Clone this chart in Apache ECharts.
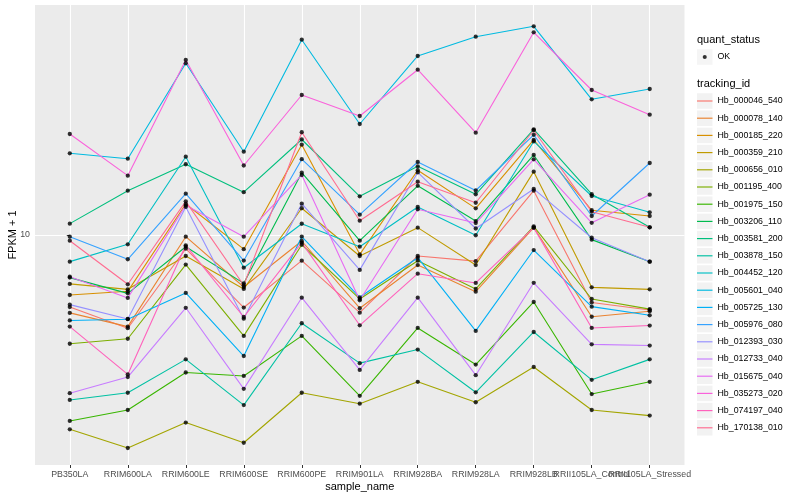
<!DOCTYPE html>
<html><head><meta charset="utf-8">
<script src="https://cdn.jsdelivr.net/npm/echarts@6/dist/echarts.min.js"></script>
<style>html,body{margin:0;padding:0;background:#fff}#c{width:800px;height:500px}</style>
</head><body><div id="c"></div>
<script>
// ---- data ----
const categories = ['PB350LA','RRIM600LA','RRIM600LE','RRIM600SE','RRIM600PE','RRIM901LA','RRIM928BA','RRIM928LA','RRIM928LB','RRII105LA_Control','RRII105LA_Stressed'];
const trackingIds = ['Hb_000046_540','Hb_000078_140','Hb_000185_220','Hb_000359_210','Hb_000656_010','Hb_001195_400','Hb_001975_150','Hb_003206_110','Hb_003581_200','Hb_003878_150','Hb_004452_120','Hb_005601_040','Hb_005725_130','Hb_005976_080','Hb_012393_030','Hb_012733_040','Hb_015675_040','Hb_035273_020','Hb_074197_040','Hb_170138_010'];
const colors = ['#F8766D','#EA8331','#D89000','#C09B00','#A3A500','#7CAE00','#39B600','#00BB4E','#00BF7D','#00C1A3','#00BFC4','#00BAE0','#00B0F6','#35A2FF','#9590FF','#C77CFF','#E76BF3','#FA62DB','#FF62BC','#FF6C91'];
// FPKM + 1 per sample
const hb000046_540 = [5.75, 4.89, 9.00, 5.73, 8.21, 5.51, 8.51, 8.18, 14.05, 5.96, 5.62];
const hb000078_140 = [5.50, 4.95, 9.87, 6.71, 9.55, 5.70, 7.94, 6.47, 10.58, 5.34, 5.57];
const hb000185_220 = [6.31, 6.49, 12.69, 8.97, 20.00, 8.62, 16.44, 12.27, 20.74, 12.09, 11.57];
const hb000359_210 = [6.87, 6.59, 8.51, 6.61, 12.28, 8.51, 10.58, 7.94, 16.26, 6.69, 6.59];
const hb000656_010 = [2.25, 1.95, 2.37, 2.03, 2.98, 2.74, 3.24, 2.77, 3.63, 2.61, 2.50];
const hb001195_400 = [4.34, 4.51, 7.97, 4.61, 9.28, 6.12, 8.21, 6.61, 10.69, 6.12, 5.66];
const hb001975_150 = [2.40, 2.61, 3.48, 3.39, 4.61, 2.91, 4.90, 3.70, 5.98, 2.95, 3.24];
const hb003206_110 = [7.21, 6.39, 9.14, 6.90, 16.13, 9.57, 14.59, 11.13, 18.48, 9.65, 8.15];
const hb003581_200 = [10.91, 14.05, 17.21, 13.89, 20.81, 13.46, 16.94, 13.67, 22.51, 13.68, 10.61];
const hb003878_150 = [2.82, 2.98, 3.85, 2.71, 5.08, 3.74, 4.15, 2.99, 4.75, 3.29, 3.85];
const hb004452_120 = [8.15, 9.31, 18.24, 7.78, 10.90, 9.14, 12.40, 9.98, 20.50, 13.49, 11.90];
const hb005601_040 = [18.72, 17.96, 37.35, 18.95, 44.77, 23.44, 39.51, 45.81, 49.62, 28.33, 30.67];
const hb005725_130 = [5.19, 5.24, 6.41, 3.95, 9.87, 6.20, 8.40, 4.79, 8.91, 5.77, 5.40];
const hb005976_080 = [9.87, 8.30, 13.73, 8.22, 17.89, 11.69, 17.51, 14.07, 21.58, 11.57, 17.38];
const hb012393_030 = [5.86, 5.25, 12.40, 5.26, 12.72, 7.65, 16.16, 10.51, 14.24, 9.79, 8.15];
const hb012733_040 = [2.97, 3.36, 5.72, 3.07, 6.18, 3.55, 6.18, 3.41, 6.93, 4.32, 4.28];
const hb015675_040 = [7.26, 6.17, 12.56, 9.87, 15.85, 6.06, 12.18, 10.96, 17.88, 10.98, 13.63];
const hb035273_020 = [21.71, 15.77, 38.31, 17.05, 29.29, 24.93, 35.56, 21.93, 47.39, 30.43, 25.18];
const hb074197_040 = [4.95, 3.43, 9.24, 5.33, 9.43, 5.00, 7.43, 6.92, 10.58, 4.90, 4.99];
const hb170138_010 = [9.57, 6.85, 12.95, 6.80, 22.00, 11.16, 15.05, 12.81, 22.34, 11.96, 10.61];
const yTicks = [10];
const yMin = 1.7113, yMax = 58.43;
const quantStatus = 'OK';

const seriesValues = [hb000046_540, hb000078_140, hb000185_220, hb000359_210, hb000656_010, hb001195_400, hb001975_150, hb003206_110, hb003581_200, hb003878_150, hb004452_120, hb005601_040, hb005725_130, hb005976_080, hb012393_030, hb012733_040, hb015675_040, hb035273_020, hb074197_040, hb170138_010];

// ---- chart ----
const FONT = '"Liberation Sans", Arial, Helvetica, sans-serif';
const catIdx = categories.map((c, i) => i);
const evenIdx = catIdx.filter(i => i % 2 === 0);
const oddIdx = catIdx.filter(i => i % 2 === 1);
const chart = echarts.init(document.getElementById('c'));

const lineSeries = trackingIds.map((id, k) => ({
  name: id, type: 'line', symbol: 'none', silent: true, z: 2,
  color: colors[k], lineStyle: { width: 1.1, color: colors[k] },
  data: seriesValues[k].map((v, i) => [i, v])
}));
const pts = [];
seriesValues.forEach(a => a.forEach((v, i) => pts.push([i, v])));
const pointSeries = { name: quantStatus, type: 'scatter', symbol: 'circle', symbolSize: 4.3, silent: true, z: 5,
  color: '#000', itemStyle: { color: '#000' }, data: pts };

const lineIcon = 'path://M0,0M20,20M0,9.25H20V10.75H0Z';
const dotIcon = 'path://M0,0M16,16M8,8m-2.1,0a2.1,2.1 0 1,0 4.2,0a2.1,2.1 0 1,0 -4.2,0Z';
const legendBase = { orient: 'vertical', left: 697, itemWidth: 15.5, itemHeight: 15.5, itemGap: 1.7,
  textStyle: { fontFamily: FONT, fontSize: 8.8, color: '#000' }, padding: 0, selectedMode: false };
const xLabelStyle = { margin: 5, hideOverlap: false, showMinLabel: true, showMaxLabel: true,
  formatter: v => categories[Math.round(v)] || '', fontFamily: FONT, fontSize: 8.8, color: '#4D4D4D' };

chart.setOption({
  animation: false,
  backgroundColor: '#fff',
  textStyle: { fontFamily: FONT },
  grid: { left: 35, right: 115.5, top: 5, bottom: 35, show: true, backgroundColor: '#EBEBEB', borderWidth: 0,
    containLabel: false, outerBoundsMode: 'none' },
  xAxis: [{
    type: 'value', min: -0.6, max: 10.6, position: 'bottom',
    name: 'sample_name', nameLocation: 'middle', nameGap: 16, nameMoveOverlap: false,
    nameTextStyle: { fontFamily: FONT, fontSize: 11, color: '#000' },
    axisLine: { show: false },
    axisTick: { show: true, customValues: catIdx, length: 3, lineStyle: { color: '#333333', width: 1 } },
    axisLabel: Object.assign({ customValues: evenIdx }, xLabelStyle),
    splitLine: { show: true, lineStyle: { color: '#FFFFFF', width: 1.1 } }
  }, {
    type: 'value', min: -0.6, max: 10.6, position: 'bottom', offset: 0,
    axisLine: { show: false }, axisTick: { show: false }, splitLine: { show: false },
    axisLabel: Object.assign({ customValues: oddIdx }, xLabelStyle)
  }],
  yAxis: {
    type: 'log', logBase: 10, min: yMin, max: yMax,
    name: 'FPKM + 1', nameLocation: 'middle', nameGap: 17, nameRotate: 90, nameMoveOverlap: false,
    nameTextStyle: { fontFamily: FONT, fontSize: 11, color: '#000' },
    axisLine: { show: false },
    axisTick: { show: true, customValues: yTicks, length: 3, lineStyle: { color: '#333333', width: 1 } },
    axisLabel: { customValues: yTicks, margin: 5, fontFamily: FONT, fontSize: 8.8, color: '#4D4D4D', formatter: v => String(v) },
    splitLine: { show: true, lineStyle: { color: '#FFFFFF', width: 1.1 } },
    minorSplitLine: { show: false }
  },
  legend: [
    Object.assign({}, legendBase, { top: 49.25, z: 3, data: [quantStatus], icon: 'rect',
      itemStyle: { color: '#F2F2F2', borderWidth: 0 }, textStyle: { fontFamily: FONT, fontSize: 8.8, color: 'rgba(0,0,0,0)' } }),
    Object.assign({}, legendBase, { top: 49.25, z: 4, data: [quantStatus], icon: dotIcon, itemStyle: { color: '#000', borderWidth: 0 } }),
    Object.assign({}, legendBase, { top: 93.25, z: 3, data: trackingIds, icon: 'rect',
      itemStyle: { color: '#F2F2F2', borderWidth: 0 }, textStyle: { fontFamily: FONT, fontSize: 8.8, color: 'rgba(0,0,0,0)' } }),
    Object.assign({}, legendBase, { top: 93.25, z: 4, data: trackingIds, icon: lineIcon, itemStyle: { borderWidth: 0 } })
  ],
  graphic: [
    { type: 'text', left: 697, top: 34.5, style: { text: 'quant_status', font: '11px ' + FONT, fill: '#000' } },
    { type: 'text', left: 697, top: 78, style: { text: 'tracking_id', font: '11px ' + FONT, fill: '#000' } }
  ],
  series: lineSeries.concat([pointSeries])
});
</script></body></html>
